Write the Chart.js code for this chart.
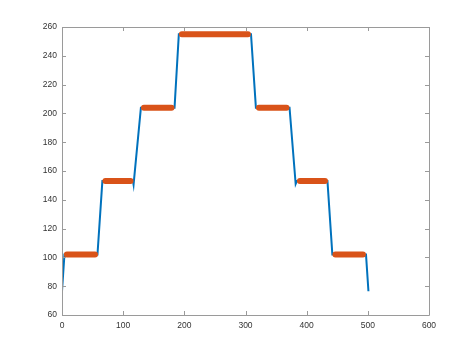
<!DOCTYPE html>
<html>
<head>
<meta charset="utf-8">
<script src="https://cdn.jsdelivr.net/npm/chart.js@4"></script>
<style>
  html, body { margin: 0; padding: 0; background: #fff; }
  #wrap { width: 474px; height: 355px; }
</style>
</head>
<body>
<div id="wrap"><canvas id="chart" width="474" height="355"></canvas></div>
<script>
// blue signal (vertices of the line)
const lineX = [0, 4, 58, 66, 116, 117, 129, 184, 191, 309, 317, 372, 382, 384, 434, 442, 497, 501];
const lineY = [76.5, 102, 102, 153, 153, 150.5, 204, 204, 255, 255, 204, 204, 151, 153, 153, 102, 102, 76.5];

// orange plateaus (marked samples)
const plateauStart = [8, 71, 134, 196, 322, 389, 447];
const plateauEnd = [54, 112, 179, 304, 367, 430, 492];
const plateauLevel = [102, 153, 204, 255, 204, 153, 102];

// axis ticks
const xTicks = [0, 100, 200, 300, 400, 500, 600];
const yTicks = [60, 80, 100, 120, 140, 160, 180, 200, 220, 240, 260];

const linePoints = lineX.map((x, i) => ({ x: x, y: lineY[i] }));

// each plateau is a segment, broken by a null point
const plateauPoints = [];
plateauLevel.forEach((level, i) => {
  plateauPoints.push({ x: plateauStart[i], y: level });
  plateauPoints.push({ x: plateauEnd[i], y: level });
  plateauPoints.push({ x: plateauEnd[i] + 1, y: null });
});

const AXIS_COLOR = '#9a9a9a';
const TICK_LEN = 4;

// box around the plot area with inward ticks on all four sides
const boxPlugin = {
  id: 'box',
  afterDraw(chart) {
    const ctx = chart.ctx;
    const a = chart.chartArea;
    const xs = chart.scales.x;
    const ys = chart.scales.y;
    ctx.save();
    ctx.strokeStyle = AXIS_COLOR;
    ctx.lineWidth = 1;
    ctx.beginPath();
    ctx.rect(Math.round(a.left) + 0.5, Math.round(a.top) + 0.5,
      Math.round(a.right - a.left), Math.round(a.bottom - a.top));
    xTicks.forEach(v => {
      const px = Math.round(xs.getPixelForValue(v)) + 0.5;
      ctx.moveTo(px, a.bottom);
      ctx.lineTo(px, a.bottom - TICK_LEN);
      ctx.moveTo(px, a.top);
      ctx.lineTo(px, a.top + TICK_LEN);
    });
    yTicks.forEach(v => {
      const py = Math.round(ys.getPixelForValue(v)) + 0.5;
      ctx.moveTo(a.left, py);
      ctx.lineTo(a.left + TICK_LEN, py);
      ctx.moveTo(a.right, py);
      ctx.lineTo(a.right - TICK_LEN, py);
    });
    ctx.stroke();
    ctx.restore();
  }
};

new Chart(document.getElementById('chart'), {
  type: 'scatter',
  data: {
    datasets: [
      {
        label: 'marked',
        data: plateauPoints,
        showLine: true,
        spanGaps: false,
        borderColor: '#D95319',
        borderWidth: 6,
        borderCapStyle: 'round',
        pointRadius: 0,
        order: 0
      },
      {
        label: 'signal',
        data: linePoints,
        showLine: true,
        borderColor: '#0072BD',
        borderWidth: 2,
        pointRadius: 0,
        tension: 0,
        order: 1
      }
    ]
  },
  options: {
    responsive: false,
    animation: false,
    events: [],
    layout: {
      padding: { left: 0, top: 27, right: 45, bottom: 0 }
    },
    scales: {
      x: {
        type: 'linear',
        min: 0,
        max: 600,
        afterFit: (s) => { s.height = 40; },
        afterBuildTicks: (s) => { s.ticks = xTicks.map(v => ({ value: v })); },
        grid: { display: false, drawTicks: false },
        border: { display: false },
        ticks: {
          padding: 6,
          color: '#333',
          font: { family: '"Liberation Sans", Arial, sans-serif', size: 8.5 },
          maxRotation: 0
        }
      },
      y: {
        type: 'linear',
        min: 60,
        max: 260,
        afterFit: (s) => { s.width = 62; },
        afterBuildTicks: (s) => { s.ticks = yTicks.map(v => ({ value: v })); },
        grid: { display: false, drawTicks: false },
        border: { display: false },
        ticks: {
          padding: 5,
          color: '#333',
          font: { family: '"Liberation Sans", Arial, sans-serif', size: 8.5 }
        }
      }
    },
    plugins: {
      legend: { display: false },
      title: { display: false },
      tooltip: { enabled: false }
    }
  },
  plugins: [boxPlugin]
});
</script>
</body>
</html>
